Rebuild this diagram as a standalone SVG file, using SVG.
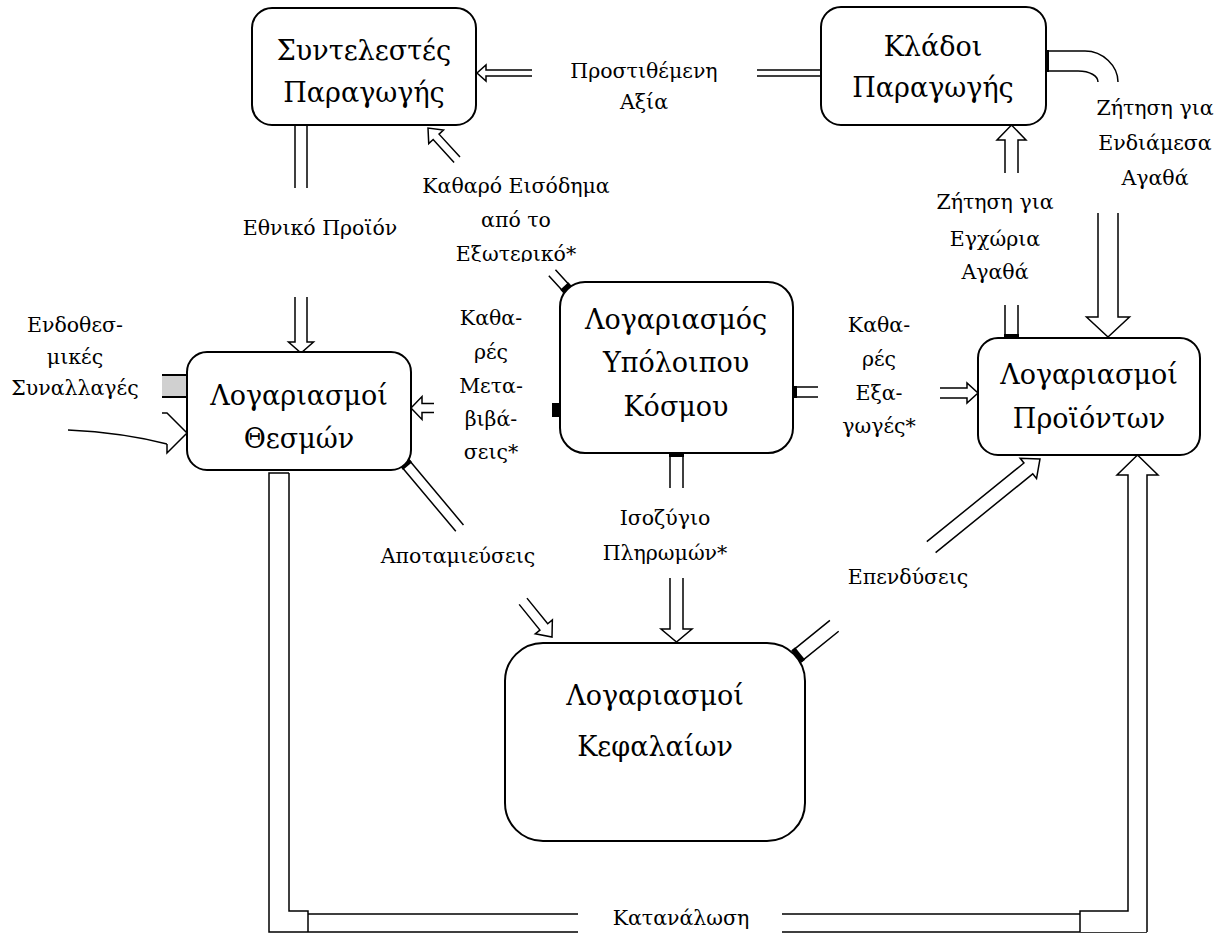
<svg xmlns="http://www.w3.org/2000/svg" width="1223" height="936" viewBox="0 0 1223 936">
<style>
.box{fill:#fff;stroke:#000;stroke-width:2}
.ln{fill:none;stroke:#000;stroke-width:1.5}
.ar{fill:#fff;stroke:#000;stroke-width:1.5;stroke-linejoin:miter}
.cap{fill:#000}
.bt{font-family:"DejaVu Serif","Liberation Serif",serif;font-size:27px;text-anchor:middle;fill:#000}
.lb{font-family:"DejaVu Serif","Liberation Serif",serif;font-size:20.5px;text-anchor:middle;fill:#000}
</style>
<defs>
<clipPath id="clipExt"><rect x="400" y="160" width="240" height="102"/></clipPath>
</defs>
<rect width="1223" height="936" fill="#fff"/>

<g id="connectors">
  <!-- Prostithemeni Axia -->
  <path class="ln" d="M757,70H821M757,76H821"/>
  <path class="ar" transform="translate(477,73) rotate(180)" d="M-55,-3H-9V-8L0,0L-9,8V3H-55"/>
  <!-- Ethniko Proion -->
  <path class="ln" d="M295,125V188M307,125V188"/>
  <path class="ar" transform="translate(301,353) rotate(90)" d="M-56,-6H-11V-12.5L0,0L-11,12.5V6H-56"/>
  <!-- Katharo Eisodima -->
  <g transform="translate(567,289) rotate(-132.5)">
    <path class="ln" d="M0,-4.5H22M0,4.5H22"/>
    <rect class="cap" x="-1" y="-5.5" width="5" height="11"/>
  </g>
  <path class="ar" transform="translate(428,128) rotate(-132.5)" d="M-43,-4H-12V-10L0,0L-12,10V4H-43"/>
  <!-- Metavivaseis -->
  <rect class="cap" x="552" y="403" width="8" height="14"/>
  <path class="ar" transform="translate(411,408) rotate(180)" d="M-23,-4.5H-11V-11.5L0,0L-11,11.5V4.5H-23"/>
  <!-- Exagoges -->
  <path class="ln" d="M793,387H818M793,397H818"/>
  <rect class="cap" x="793" y="386" width="4" height="12"/>
  <path class="ar" transform="translate(978,393)" d="M-38,-5H-11V-10L0,0L-11,10V5H-38"/>
  <!-- Zitisi Egxoria -->
  <path class="ln" d="M1005,305V338M1018,305V338"/>
  <rect class="cap" x="1004" y="334" width="15" height="5"/>
  <path class="ar" transform="translate(1011.5,125) rotate(-90)" d="M-48,-6.5H-15V-14.5L0,0L-15,14.5V6.5H-48"/>
  <!-- Zitisi Endiamesa -->
  <path class="ln" d="M1046,51H1085C1103,51 1118,66 1118,82M1046,71H1078C1090,71 1098,76 1098,82"/>
  <rect class="cap" x="1045" y="50" width="4" height="22"/>
  <path class="ar" transform="translate(1108,337) rotate(90)" d="M-124,-10H-20V-21.5L0,0L-20,21.5V10H-124"/>
  <!-- Endothesmikes -->
  <rect x="162" y="375" width="25" height="22" fill="#d0d0d0"/>
  <path class="ln" d="M162,375H187M162,397H187" style="stroke-width:2"/>
  <path class="ln" d="M68,430C110,432 140,437 167,444"/>
  <path class="ar" d="M162,413H167L187,433L167,453V444"/>
  <!-- Apotamieuseis -->
  <g transform="translate(405,463) rotate(50)">
    <path class="ln" d="M0,-5H85M0,5H85"/>
    <rect class="cap" x="-1" y="-6" width="5" height="12"/>
  </g>
  <path class="ar" transform="translate(552,637) rotate(51)" d="M-46,-5H-13V-11L0,0L-13,11V5H-46"/>
  <!-- Isozygio -->
  <path class="ln" d="M670,453V488M683,453V488"/>
  <rect class="cap" x="669" y="452" width="15" height="5"/>
  <path class="ar" transform="translate(676.5,642) rotate(90)" d="M-64,-6.5H-13V-15.5L0,0L-13,15.5V6.5H-64"/>
  <!-- Ependyseis -->
  <g transform="translate(797,656) rotate(-39)">
    <path class="ln" d="M0,-7H48M0,7H48"/>
    <rect class="cap" x="-1" y="-8" width="5" height="16"/>
  </g>
  <path class="ar" transform="translate(1040,459) rotate(-39)" d="M-140,-7H-15V-13L0,0L-15,13V7H-140"/>
  <!-- Katanalosi -->
  <path class="ar" d="M289,473H269V932H578"/>
  <path class="ln" d="M289,473V911H308V932M308,914H578"/>
  <path class="ln" d="M782,914H1080M782,932H1147"/>
  <path class="ar" d="M1080,932V911H1128V475H1117L1137.5,455L1158,475H1147V932"/>
</g>

<g id="n-syntelestes">
  <rect class="box" x="252" y="8" width="224" height="117" rx="20"/>
  <text class="bt" x="364" y="60">Συντελεστές</text>
  <text class="bt" x="364" y="102">Παραγωγής</text>
</g>
<g id="n-kladoi">
  <rect class="box" x="821" y="7" width="225" height="118" rx="20"/>
  <text class="bt" x="933" y="56">Κλάδοι</text>
  <text class="bt" x="933" y="97">Παραγωγής</text>
</g>
<g id="n-thesmon">
  <rect class="box" x="187" y="352" width="224" height="118" rx="20"/>
  <text class="bt" x="299" y="405">Λογαριασμοί</text>
  <text class="bt" x="299" y="448">Θεσμών</text>
</g>
<g id="n-rest-world">
  <rect class="box" x="560" y="282" width="233" height="171" rx="25"/>
  <text class="bt" x="676" y="329">Λογαριασμός</text>
  <text class="bt" x="676" y="372">Υπόλοιπου</text>
  <text class="bt" x="676" y="416">Κόσμου</text>
</g>
<g id="n-proionton">
  <rect class="box" x="978" y="338" width="222" height="117" rx="20"/>
  <text class="bt" x="1089" y="384">Λογαριασμοί</text>
  <text class="bt" x="1089" y="428">Προϊόντων</text>
</g>
<g id="n-kefalaion">
  <rect class="box" x="505" y="643" width="300" height="198" rx="38"/>
  <text class="bt" x="655" y="705">Λογαριασμοί</text>
  <text class="bt" x="655" y="756">Κεφαλαίων</text>
</g>

<g id="labels">
  <text class="lb" x="644" y="78">Προστιθέμενη</text>
  <text class="lb" x="644" y="109">Αξία</text>
  <text class="lb" x="516" y="193">Καθαρό Εισόδημα</text>
  <text class="lb" x="516" y="227">από το</text>
  <text class="lb" x="516" y="261" clip-path="url(#clipExt)">Εξωτερικό*</text>
  <text class="lb" x="320" y="235">Εθνικό Προϊόν</text>
  <text class="lb" x="995" y="209">Ζήτηση για</text>
  <text class="lb" x="995" y="246">Εγχώρια</text>
  <text class="lb" x="995" y="279">Αγαθά</text>
  <text class="lb" x="1155" y="115">Ζήτηση για</text>
  <text class="lb" x="1155" y="150">Ενδιάμεσα</text>
  <text class="lb" x="1155" y="185">Αγαθά</text>
  <text class="lb" x="75" y="332">Ενδοθεσ-</text>
  <text class="lb" x="75" y="364">μικές</text>
  <text class="lb" x="75" y="395">Συναλλαγές</text>
  <text class="lb" x="491" y="325">Καθα-</text>
  <text class="lb" x="491" y="359">ρές</text>
  <text class="lb" x="491" y="393">Μετα-</text>
  <text class="lb" x="491" y="426">βιβά-</text>
  <text class="lb" x="491" y="459">σεις*</text>
  <text class="lb" x="879" y="332">Καθα-</text>
  <text class="lb" x="879" y="366">ρές</text>
  <text class="lb" x="879" y="400">Εξα-</text>
  <text class="lb" x="879" y="433">γωγές*</text>
  <text class="lb" x="458" y="563">Αποταμιεύσεις</text>
  <text class="lb" x="665" y="525">Ισοζύγιο</text>
  <text class="lb" x="665" y="560">Πληρωμών*</text>
  <text class="lb" x="908" y="584">Επενδύσεις</text>
  <text class="lb" x="681" y="925">Κατανάλωση</text>
</g>
</svg>
